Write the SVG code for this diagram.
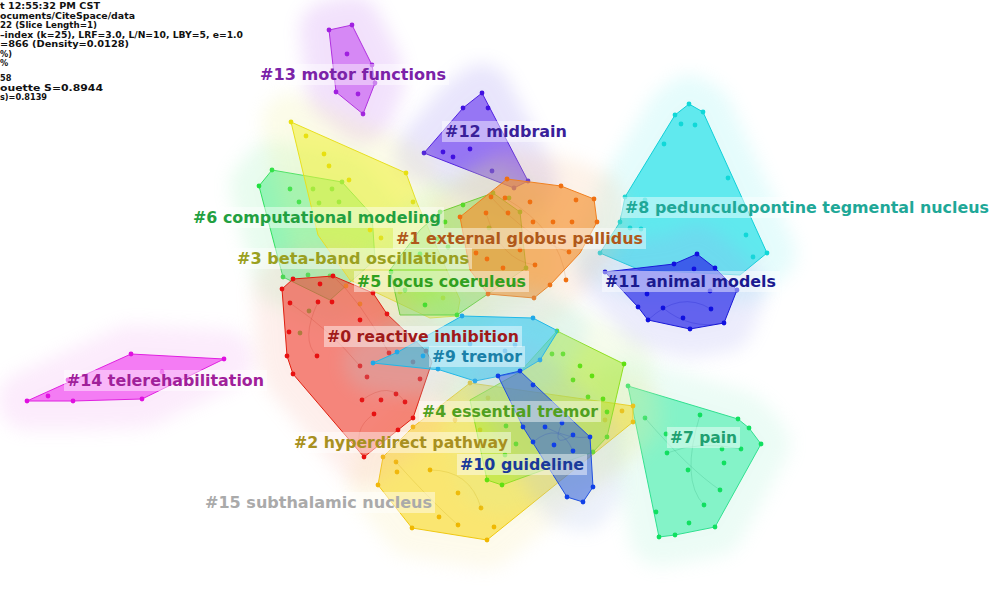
<svg xmlns="http://www.w3.org/2000/svg" width="996" height="608" viewBox="0 0 996 608">
<defs>
<filter id="soft" filterUnits="userSpaceOnUse" x="-50" y="-50" width="1100" height="720"><feGaussianBlur stdDeviation="9"/></filter>
</defs>
<style>
.info{font-family:"DejaVu Sans","Liberation Sans",sans-serif;font-size:8.2px;font-weight:bold;fill:#111}
.lbl{font-family:"DejaVu Sans","Liberation Sans",sans-serif;font-size:15.5px;font-weight:bold}
.lbg{fill:#ffffff;fill-opacity:0.45}
.halo{stroke-width:58;stroke-linejoin:round;opacity:0.2;filter:url(#soft)}
.hull{stroke-width:1;stroke-linejoin:round}
.link{fill:none;stroke-width:0.6;opacity:0.35}
</style>
<rect width="996" height="608" fill="#ffffff"/>

<g id="info">
<text class="info" x="0" y="9" textLength="100" lengthAdjust="spacingAndGlyphs">t 12:55:32 PM CST</text>
<text class="info" x="0" y="18.5" textLength="135" lengthAdjust="spacingAndGlyphs">ocuments/CiteSpace/data</text>
<text class="info" x="0" y="28" textLength="97" lengthAdjust="spacingAndGlyphs">22 (Slice Length=1)</text>
<text class="info" x="0" y="37.5" textLength="243" lengthAdjust="spacingAndGlyphs">–index (k=25), LRF=3.0, L/N=10, LBY=5, e=1.0</text>
<text class="info" x="0" y="47" textLength="129" lengthAdjust="spacingAndGlyphs">=866 (Density=0.0128)</text>
<text class="info" x="0" y="56.5">%)</text>
<text class="info" x="0" y="66">%</text>
<text class="info" x="0" y="81">58</text>
<text class="info" x="0" y="90.5" textLength="103" lengthAdjust="spacingAndGlyphs">ouette S=0.8944</text>
<text class="info" x="0" y="100">s)=0.8139</text>
</g>

<g id="cluster-13">
<polygon class="halo" fill="#c070f0" stroke="#c070f0" points="329,30 352,25 372,65 375,83 363,114 336,92"/>
<polygon class="hull" fill="#c040f0" fill-opacity="0.55" stroke="#b030e0" points="329,30 352,25 372,65 375,83 363,114 336,92"/>
<g fill="#a020e0"><circle cx="329" cy="30" r="2.4"/><circle cx="352" cy="25" r="2.4"/><circle cx="347" cy="54" r="2.4"/><circle cx="372" cy="65" r="2.4"/><circle cx="375" cy="83" r="2.4"/><circle cx="358" cy="94" r="2.4"/><circle cx="336" cy="92" r="2.4"/><circle cx="363" cy="114" r="2.4"/></g>
</g>

<g id="cluster-12">
<polygon class="halo" fill="#9080f0" stroke="#9080f0" points="482,93 528,181 514,188 424,153 463,108"/>
<polygon class="hull" fill="#6a3af0" fill-opacity="0.65" stroke="#5020e0" points="482,93 528,181 514,188 424,153 463,108"/>
<g fill="#4010e0"><circle cx="482" cy="93" r="2.4"/><circle cx="463" cy="108" r="2.4"/><circle cx="488" cy="108" r="2.4"/><circle cx="424" cy="153" r="2.4"/><circle cx="443" cy="152" r="2.4"/><circle cx="453" cy="157" r="2.4"/><circle cx="470" cy="149" r="2.4"/><circle cx="492" cy="171" r="2.4"/><circle cx="514" cy="188" r="2.4"/><circle cx="528" cy="181" r="2.4"/></g>
</g>

<g id="cluster-8">
<polygon class="halo" fill="#80f0f0" stroke="#80f0f0" points="675,115 689,104 703,112 767,253 740,275 640,270 600,253 620,222 625,197"/>
<polygon class="hull" fill="#20e0e8" fill-opacity="0.68" stroke="#10d0d8" points="675,115 689,104 703,112 767,253 740,275 640,270 600,253 620,222 625,197"/>
<g fill="#10d8d8"><circle cx="689" cy="104" r="2.4"/><circle cx="703" cy="112" r="2.4"/><circle cx="675" cy="115" r="2.4"/><circle cx="681" cy="124" r="2.4"/><circle cx="695" cy="125" r="2.4"/><circle cx="664" cy="144" r="2.4"/><circle cx="728" cy="178" r="2.4"/><circle cx="625" cy="197" r="2.4"/><circle cx="645" cy="200" r="2.4"/><circle cx="746" cy="235" r="2.4"/><circle cx="620" cy="222" r="2.4"/><circle cx="630" cy="228" r="2.4"/><circle cx="641" cy="229" r="2.4"/><circle cx="753" cy="257" r="2.4"/><circle cx="767" cy="253" r="2.4"/><circle cx="600" cy="253" r="2.4"/></g>
</g>

<g id="cluster-11">
<polygon class="halo" fill="#a0a0f0" stroke="#a0a0f0" points="697,254 715,268 737,290 724,323 690,329 648,320 638,307 605,272 674,264"/>
<polygon class="hull" fill="#2a2ae8" fill-opacity="0.7" stroke="#1a1ad8" points="697,254 715,268 737,290 724,323 690,329 648,320 638,307 605,272 674,264"/>
<g fill="#1010e0"><circle cx="697" cy="254" r="2.4"/><circle cx="715" cy="268" r="2.4"/><circle cx="737" cy="290" r="2.4"/><circle cx="724" cy="323" r="2.4"/><circle cx="690" cy="329" r="2.4"/><circle cx="648" cy="320" r="2.4"/><circle cx="638" cy="307" r="2.4"/><circle cx="605" cy="272" r="2.4"/><circle cx="674" cy="264" r="2.4"/><circle cx="694" cy="269" r="2.4"/><circle cx="710" cy="291" r="2.4"/><circle cx="711" cy="309" r="2.4"/><circle cx="663" cy="308" r="2.4"/><circle cx="647" cy="294" r="2.4"/><circle cx="683" cy="318" r="2.4"/></g>
</g>

<g id="cluster-14">
<polygon class="halo" fill="#f0a0f0" stroke="#f0a0f0" points="131,354 224,359 142,399 73,401 27,401"/>
<polygon class="hull" fill="#f040f0" fill-opacity="0.65" stroke="#e020e0" points="131,354 224,359 142,399 73,401 27,401"/>
<g fill="#e010e0"><circle cx="131" cy="354" r="2.4"/><circle cx="224" cy="359" r="2.4"/><circle cx="162" cy="372" r="2.4"/><circle cx="142" cy="399" r="2.4"/><circle cx="73" cy="401" r="2.4"/><circle cx="27" cy="401" r="2.4"/><circle cx="48" cy="396" r="2.4"/><circle cx="68" cy="380" r="2.4"/></g>
</g>

<g id="cluster-7">
<polygon class="halo" fill="#a0f0d0" stroke="#a0f0d0" points="628,386 738,419 749,428 761,444 715,527 675,535 659,537"/>
<polygon class="hull" fill="#40eeaa" fill-opacity="0.6" stroke="#30e090" points="628,386 738,419 749,428 761,444 715,527 675,535 659,537"/>
<g fill="#10e060"><circle cx="628" cy="386" r="2.4"/><circle cx="645" cy="418" r="2.4"/><circle cx="700" cy="415" r="2.4"/><circle cx="738" cy="419" r="2.4"/><circle cx="749" cy="428" r="2.4"/><circle cx="761" cy="444" r="2.4"/><circle cx="741" cy="449" r="2.4"/><circle cx="722" cy="449" r="2.4"/><circle cx="666" cy="434" r="2.4"/><circle cx="667" cy="453" r="2.4"/><circle cx="724" cy="463" r="2.4"/><circle cx="688" cy="470" r="2.4"/><circle cx="720" cy="490" r="2.4"/><circle cx="704" cy="505" r="2.4"/><circle cx="656" cy="512" r="2.4"/><circle cx="689" cy="523" r="2.4"/><circle cx="715" cy="527" r="2.4"/><circle cx="675" cy="535" r="2.4"/><circle cx="659" cy="537" r="2.4"/></g>
</g>

<g id="cluster-6">
<polygon class="halo" fill="#90f0b0" stroke="#90f0b0" points="272,170 342,182 372,215 375,260 330,300 283,277 259,186"/>
<polygon class="hull" fill="#40ee80" fill-opacity="0.5" stroke="#30e060" points="272,170 342,182 372,215 375,260 330,300 283,277 259,186"/>
<g fill="#20e040"><circle cx="272" cy="170" r="2.4"/><circle cx="259" cy="186" r="2.4"/><circle cx="342" cy="182" r="2.4"/><circle cx="290" cy="189" r="2.4"/><circle cx="313" cy="189" r="2.4"/><circle cx="332" cy="189" r="2.4"/><circle cx="299" cy="202" r="2.4"/><circle cx="319" cy="203" r="2.4"/><circle cx="339" cy="202" r="2.4"/><circle cx="283" cy="277" r="2.4"/><circle cx="308" cy="275" r="2.4"/><circle cx="330" cy="276" r="2.4"/><circle cx="300" cy="333" r="2.4"/><circle cx="309" cy="311" r="2.4"/></g>
</g>

<g id="cluster-3">
<polygon class="halo" fill="#f0f090" stroke="#f0f090" points="291,122 406,173 417,203 460,300 457,316 430,318 350,280 318,235"/>
<polygon class="hull" fill="#f0f030" fill-opacity="0.55" stroke="#e8e020" points="291,122 406,173 417,203 460,300 457,316 430,318 350,280 318,235"/>
<g fill="#e8e010"><circle cx="291" cy="122" r="2.4"/><circle cx="306" cy="136" r="2.4"/><circle cx="324" cy="154" r="2.4"/><circle cx="329" cy="166" r="2.4"/><circle cx="349" cy="180" r="2.4"/><circle cx="406" cy="173" r="2.4"/><circle cx="413" cy="202" r="2.4"/><circle cx="370" cy="230" r="2.4"/><circle cx="381" cy="238" r="2.4"/><circle cx="346" cy="286" r="2.4"/><circle cx="360" cy="304" r="2.4"/><circle cx="400" cy="292" r="2.4"/><circle cx="443" cy="298" r="2.4"/></g>
</g>

<g id="cluster-5">
<polygon class="halo" fill="#b0f090" stroke="#b0f090" points="440,212 493,193 520,212 526,268 457,315 400,315 390,270 420,230"/>
<polygon class="hull" fill="#70e040" fill-opacity="0.5" stroke="#50d020" points="440,212 493,193 520,212 526,268 457,315 400,315 390,270 420,230"/>
<g fill="#30e010"><circle cx="440" cy="212" r="2.4"/><circle cx="445" cy="222" r="2.4"/><circle cx="463" cy="205" r="2.4"/><circle cx="493" cy="193" r="2.4"/><circle cx="509" cy="198" r="2.4"/><circle cx="520" cy="212" r="2.4"/><circle cx="489" cy="228" r="2.4"/><circle cx="526" cy="268" r="2.4"/><circle cx="437" cy="239" r="2.4"/><circle cx="448" cy="247" r="2.4"/><circle cx="420" cy="254" r="2.4"/><circle cx="457" cy="315" r="2.4"/><circle cx="425" cy="305" r="2.4"/><circle cx="405" cy="290" r="2.4"/><circle cx="391" cy="272" r="2.4"/></g>
</g>

<g id="cluster-1">
<polygon class="halo" fill="#f8c090" stroke="#f8c090" points="507,179 561,186 594,199 597,222 580,253 550,285 534,298 488,294 470,270 460,217"/>
<polygon class="hull" fill="#f49030" fill-opacity="0.65" stroke="#f08020" points="507,179 561,186 594,199 597,222 580,253 550,285 534,298 488,294 470,270 460,217"/>
<g fill="#f07010"><circle cx="507" cy="179" r="2.4"/><circle cx="561" cy="186" r="2.4"/><circle cx="594" cy="199" r="2.4"/><circle cx="597" cy="222" r="2.4"/><circle cx="550" cy="285" r="2.4"/><circle cx="534" cy="298" r="2.4"/><circle cx="488" cy="294" r="2.4"/><circle cx="460" cy="217" r="2.4"/><circle cx="486" cy="213" r="2.4"/><circle cx="491" cy="197" r="2.4"/><circle cx="505" cy="198" r="2.4"/><circle cx="508" cy="213" r="2.4"/><circle cx="530" cy="202" r="2.4"/><circle cx="553" cy="222" r="2.4"/><circle cx="572" cy="222" r="2.4"/><circle cx="576" cy="200" r="2.4"/><circle cx="533" cy="222" r="2.4"/><circle cx="520" cy="250" r="2.4"/><circle cx="569" cy="252" r="2.4"/><circle cx="535" cy="265" r="2.4"/><circle cx="503" cy="268" r="2.4"/><circle cx="487" cy="259" r="2.4"/><circle cx="500" cy="281" r="2.4"/><circle cx="516" cy="284" r="2.4"/><circle cx="566" cy="280" r="2.4"/><circle cx="476" cy="253" r="2.4"/></g>
</g>

<g id="cluster-2">
<polygon class="halo" fill="#f8e8a0" stroke="#f8e8a0" points="470,383 633,406 633,422 487,540 412,528 378,485 383,457 413,427"/>
<polygon class="hull" fill="#f8d820" fill-opacity="0.6" stroke="#f0c810" points="470,383 633,406 633,422 487,540 412,528 378,485 383,457 413,427"/>
<g fill="#f0b800"><circle cx="470" cy="383" r="2.4"/><circle cx="633" cy="406" r="2.4"/><circle cx="633" cy="422" r="2.4"/><circle cx="487" cy="540" r="2.4"/><circle cx="412" cy="528" r="2.4"/><circle cx="378" cy="485" r="2.4"/><circle cx="383" cy="457" r="2.4"/><circle cx="413" cy="427" r="2.4"/><circle cx="396" cy="462" r="2.4"/><circle cx="397" cy="472" r="2.4"/><circle cx="430" cy="470" r="2.4"/><circle cx="458" cy="493" r="2.4"/><circle cx="481" cy="508" r="2.4"/><circle cx="439" cy="517" r="2.4"/><circle cx="458" cy="525" r="2.4"/><circle cx="494" cy="527" r="2.4"/><circle cx="480" cy="430" r="2.4"/><circle cx="455" cy="420" r="2.4"/><circle cx="488" cy="398" r="2.4"/><circle cx="605" cy="420" r="2.4"/><circle cx="622" cy="411" r="2.4"/></g>
</g>

<g id="cluster-4">
<polygon class="halo" fill="#d0f0a0" stroke="#d0f0a0" points="557,331 624,364 607,437 593,452 502,485 487,480 470,400 520,372"/>
<polygon class="hull" fill="#a8e830" fill-opacity="0.55" stroke="#90e020" points="557,331 624,364 607,437 593,452 502,485 487,480 470,400 520,372"/>
<g fill="#60e010"><circle cx="557" cy="331" r="2.4"/><circle cx="624" cy="364" r="2.4"/><circle cx="607" cy="437" r="2.4"/><circle cx="593" cy="452" r="2.4"/><circle cx="502" cy="485" r="2.4"/><circle cx="487" cy="480" r="2.4"/><circle cx="552" cy="354" r="2.4"/><circle cx="563" cy="354" r="2.4"/><circle cx="580" cy="366" r="2.4"/><circle cx="592" cy="376" r="2.4"/><circle cx="573" cy="380" r="2.4"/><circle cx="588" cy="397" r="2.4"/><circle cx="603" cy="399" r="2.4"/><circle cx="607" cy="412" r="2.4"/><circle cx="506" cy="426" r="2.4"/><circle cx="516" cy="444" r="2.4"/><circle cx="505" cy="455" r="2.4"/></g>
</g>

<g id="cluster-0">
<polygon class="halo" fill="#f8b0a0" stroke="#f8b0a0" points="293,279 333,276 373,293 387,314 426,351 432,362 413,418 398,430 364,457 293,374 287,356 282,289"/>
<polygon class="hull" fill="#f04030" fill-opacity="0.6" stroke="#e02010" points="293,279 333,276 373,293 387,314 426,351 432,362 413,418 398,430 364,457 293,374 287,356 282,289"/>
<g fill="#e81010"><circle cx="293" cy="279" r="2.4"/><circle cx="333" cy="276" r="2.4"/><circle cx="320" cy="284" r="2.4"/><circle cx="318" cy="302" r="2.4"/><circle cx="332" cy="302" r="2.4"/><circle cx="282" cy="289" r="2.4"/><circle cx="290" cy="303" r="2.4"/><circle cx="289" cy="332" r="2.4"/><circle cx="287" cy="356" r="2.4"/><circle cx="293" cy="374" r="2.4"/><circle cx="317" cy="356" r="2.4"/><circle cx="360" cy="366" r="2.4"/><circle cx="367" cy="377" r="2.4"/><circle cx="362" cy="400" r="2.4"/><circle cx="381" cy="400" r="2.4"/><circle cx="374" cy="414" r="2.4"/><circle cx="398" cy="430" r="2.4"/><circle cx="364" cy="457" r="2.4"/><circle cx="413" cy="418" r="2.4"/><circle cx="405" cy="402" r="2.4"/><circle cx="396" cy="394" r="2.4"/><circle cx="389" cy="353" r="2.4"/><circle cx="413" cy="362" r="2.4"/><circle cx="420" cy="379" r="2.4"/><circle cx="426" cy="351" r="2.4"/><circle cx="373" cy="293" r="2.4"/><circle cx="387" cy="314" r="2.4"/><circle cx="360" cy="320" r="2.4"/></g>
</g>

<g id="cluster-9">
<polygon class="halo" fill="#a0e0f0" stroke="#a0e0f0" points="462,316 533,318 558,331 540,360 520,372 475,381 440,370 373,363 398,352"/>
<polygon class="hull" fill="#30c8f0" fill-opacity="0.6" stroke="#20b8e8" points="462,316 533,318 558,331 540,360 520,372 475,381 440,370 373,363 398,352"/>
<g fill="#20a8e8"><circle cx="462" cy="316" r="2.4"/><circle cx="533" cy="318" r="2.4"/><circle cx="373" cy="363" r="2.4"/><circle cx="397" cy="352" r="2.4"/><circle cx="423" cy="356" r="2.4"/><circle cx="438" cy="369" r="2.4"/><circle cx="475" cy="381" r="2.4"/><circle cx="505" cy="351" r="2.4"/><circle cx="515" cy="345" r="2.4"/><circle cx="540" cy="360" r="2.4"/><circle cx="470" cy="344" r="2.4"/></g>
</g>

<g id="cluster-10">
<polygon class="halo" fill="#a0b8e8" stroke="#a0b8e8" points="498,376 520,371 590,437 593,487 583,502 567,497 523,427"/>
<polygon class="hull" fill="#3060e0" fill-opacity="0.55" stroke="#2050e0" points="498,376 520,371 590,437 593,487 583,502 567,497 523,427"/>
<g fill="#1040e8"><circle cx="498" cy="376" r="2.4"/><circle cx="520" cy="371" r="2.4"/><circle cx="533" cy="385" r="2.4"/><circle cx="545" cy="427" r="2.4"/><circle cx="562" cy="423" r="2.4"/><circle cx="573" cy="435" r="2.4"/><circle cx="590" cy="437" r="2.4"/><circle cx="554" cy="445" r="2.4"/><circle cx="573" cy="451" r="2.4"/><circle cx="533" cy="442" r="2.4"/><circle cx="593" cy="487" r="2.4"/><circle cx="583" cy="502" r="2.4"/><circle cx="567" cy="497" r="2.4"/><circle cx="523" cy="427" r="2.4"/></g>
</g>

<g id="links">
<path class="link" stroke="#c03020" d="M290,303 Q330,330 360,366 M318,302 Q300,340 317,356 M362,400 Q390,380 405,402 M333,276 Q360,300 389,353 M374,414 Q350,430 364,457"/>
<path class="link" stroke="#d07020" d="M491,197 Q530,240 569,252 M505,198 Q560,230 566,280 M486,213 Q500,260 535,265"/>
<path class="link" stroke="#2040c0" d="M545,427 Q570,440 590,437 M533,442 Q560,420 573,451 M562,423 Q550,450 573,435"/>
<path class="link" stroke="#20a070" d="M645,418 Q690,470 720,490 M700,415 Q680,480 704,505 M667,453 Q700,440 741,449"/>
<path class="link" stroke="#1010c0" d="M648,320 Q680,290 711,309 M663,308 Q690,330 724,323"/>
<path class="link" stroke="#c0a000" d="M396,462 Q430,500 458,525 M430,470 Q470,470 481,508"/>
</g>

<g id="label-13"><rect class="lbg" x="257" y="64" width="192" height="21"/><text class="lbl" x="260" y="80" fill="#7b22a8" textLength="186" lengthAdjust="spacingAndGlyphs">#13 motor functions</text></g>
<g id="label-12"><rect class="lbg" x="442" y="121" width="128" height="21"/><text class="lbl" x="445" y="137" fill="#3a1f9a" textLength="122" lengthAdjust="spacingAndGlyphs">#12 midbrain</text></g>
<g id="label-8"><rect class="lbg" x="621" y="197" width="371" height="21"/><text class="lbl" x="625" y="213" fill="#1fa898" textLength="364" lengthAdjust="spacingAndGlyphs">#8 pedunculopontine tegmental nucleus</text></g>
<g id="label-11"><rect class="lbg" x="602" y="271" width="178" height="21"/><text class="lbl" x="605" y="287" fill="#1a1a90" textLength="171" lengthAdjust="spacingAndGlyphs">#11 animal models</text></g>
<g id="label-6"><rect class="lbg" x="190" y="207" width="254" height="21"/><text class="lbl" x="193" y="223" fill="#22a040" textLength="248" lengthAdjust="spacingAndGlyphs">#6 computational modeling</text></g>
<g id="label-1"><rect class="lbg" x="393" y="228" width="253" height="21"/><text class="lbl" x="396" y="244" fill="#b0581a" textLength="247" lengthAdjust="spacingAndGlyphs">#1 external globus pallidus</text></g>
<g id="label-3"><rect class="lbg" x="234" y="248" width="238" height="21"/><text class="lbl" x="237" y="264" fill="#9aa020" textLength="232" lengthAdjust="spacingAndGlyphs">#3 beta-band oscillations</text></g>
<g id="label-5"><rect class="lbg" x="354" y="271" width="175" height="21"/><text class="lbl" x="357" y="287" fill="#30a020" textLength="169" lengthAdjust="spacingAndGlyphs">#5 locus coeruleus</text></g>
<g id="label-0"><rect class="lbg" x="324" y="326" width="198" height="21"/><text class="lbl" x="327" y="342" fill="#a01a1a" textLength="192" lengthAdjust="spacingAndGlyphs">#0 reactive inhibition</text></g>
<g id="label-9"><rect class="lbg" x="429" y="346" width="96" height="21"/><text class="lbl" x="432" y="362" fill="#1a80a8" textLength="90" lengthAdjust="spacingAndGlyphs">#9 tremor</text></g>
<g id="label-4"><rect class="lbg" x="419" y="401" width="182" height="21"/><text class="lbl" x="422" y="417" fill="#50a020" textLength="176" lengthAdjust="spacingAndGlyphs">#4 essential tremor</text></g>
<g id="label-2"><rect class="lbg" x="291" y="432" width="220" height="21"/><text class="lbl" x="294" y="448" fill="#a89020" textLength="214" lengthAdjust="spacingAndGlyphs">#2 hyperdirect pathway</text></g>
<g id="label-10"><rect class="lbg" x="457" y="454" width="130" height="21"/><text class="lbl" x="460" y="470" fill="#1a3a9a" textLength="124" lengthAdjust="spacingAndGlyphs">#10 guideline</text></g>
<g id="label-15"><rect class="lbg" x="202" y="492" width="233" height="21"/><text class="lbl" x="205" y="508" fill="#aaaaaa" textLength="227" lengthAdjust="spacingAndGlyphs">#15 subthalamic nucleus</text></g>
<g id="label-7"><rect class="lbg" x="667" y="427" width="73" height="21"/><text class="lbl" x="670" y="443" fill="#20a070" textLength="67" lengthAdjust="spacingAndGlyphs">#7 pain</text></g>
<g id="label-14"><rect class="lbg" x="64" y="370" width="203" height="21"/><text class="lbl" x="67" y="386" fill="#a0209a" textLength="197" lengthAdjust="spacingAndGlyphs">#14 telerehabilitation</text></g>
</svg>
